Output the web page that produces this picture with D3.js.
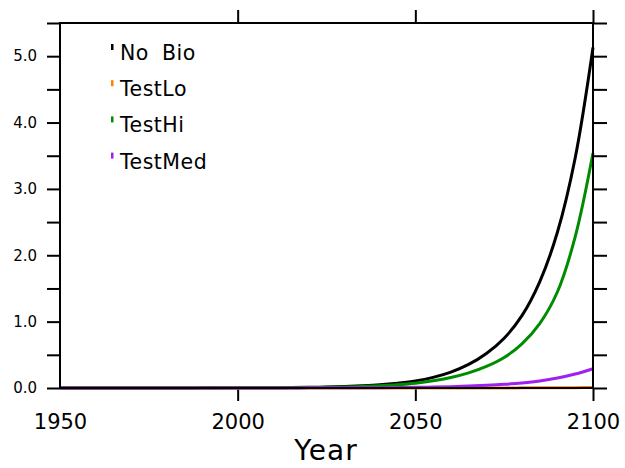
<!DOCTYPE html>
<html>
<head>
<meta charset="utf-8">
<script src="https://cdn.jsdelivr.net/npm/d3@7"></script>
<style>
  body { margin: 0; background: #fff; }
  svg { display: block; font-family: "DejaVu Sans", sans-serif; }
</style>
</head>
<body>
<div id="chart"></div>
<script>
// years sampled every 5 years
const years = [1950, 1955, 1960, 1965, 1970, 1975, 1980, 1985, 1990, 1995,
               2000, 2005, 2010, 2015, 2020, 2025, 2030, 2035, 2040, 2045,
               2050, 2055, 2060, 2065, 2070, 2075, 2080, 2085, 2090, 2095, 2100];

const noBio   = [0, 0, 0, 0, 0, 0.001, 0.001, 0.001, 0.002, 0.002,
                 0.003, 0.004, 0.005, 0.007, 0.010, 0.015, 0.022, 0.033, 0.048, 0.072,
                 0.105, 0.16, 0.24, 0.355, 0.52, 0.75, 1.09, 1.60, 2.35, 3.47, 5.13];
const testLo  = [0, 0, 0, 0, 0, 0, 0, 0, 0, 0,
                 0, 0, 0, 0, 0, 0, 0, 0, 0, 0,
                 0, 0, 0.001, 0.001, 0.001, 0.001, 0.002, 0.003, 0.004, 0.005, 0.007];
const testHi  = [0, 0, 0, 0, 0, 0, 0.001, 0.001, 0.001, 0.001,
                 0.002, 0.002, 0.003, 0.005, 0.007, 0.010, 0.015, 0.023, 0.034, 0.050,
                 0.073, 0.108, 0.158, 0.228, 0.325, 0.46, 0.665, 0.97, 1.45, 2.28, 3.54];
const testMed = [0, 0, 0, 0, 0, 0, 0, 0, 0, 0,
                 0, 0.001, 0.001, 0.001, 0.002, 0.002, 0.003, 0.004, 0.005, 0.007,
                 0.010, 0.014, 0.020, 0.029, 0.040, 0.055, 0.076, 0.106, 0.15, 0.21, 0.29];

const seriesNames  = ["No Bio", "TestLo", "TestHi", "TestMed"];
const seriesColors = ["#000000", "#ff8000", "#008c00", "#a020f0"];
const seriesValues = [noBio, testLo, testHi, testMed];

const xTickValues = [1950, 2000, 2050, 2100];
const yTickValues = [0, 0.5, 1, 1.5, 2, 2.5, 3, 3.5, 4, 4.5, 5, 5.5];

const width = 625, height = 468;
const margin = { top: 23, right: 32, bottom: 80, left: 60 };

const svg = d3.select("#chart")
  .append("svg")
  .attr("width", width)
  .attr("height", height);

const xScale = d3.scaleLinear()
  .domain([1950, 2100])
  .range([margin.left, width - margin.right]);

const yScale = d3.scaleLinear()
  .domain([0, 5.5])
  .range([height - margin.bottom, margin.top]);

const fmtY = (d) => Number.isInteger(d) ? d.toFixed(1) : "";

// left axis
const axLeft = svg.append("g")
  .attr("transform", `translate(${margin.left},0)`)
  .call(d3.axisLeft(yScale).tickValues(yTickValues).tickFormat(fmtY)
    .tickSize(13).tickSizeOuter(0).tickPadding(10));

// right axis (ticks outward, no labels)
const axRight = svg.append("g")
  .attr("transform", `translate(${width - margin.right},0)`)
  .call(d3.axisRight(yScale).tickValues(yTickValues).tickFormat("")
    .tickSize(14).tickSizeOuter(0));

// bottom axis
const axBottom = svg.append("g")
  .attr("transform", `translate(0,${height - margin.bottom})`)
  .call(d3.axisBottom(xScale).tickValues(xTickValues).tickFormat(d3.format("d"))
    .tickSize(13).tickSizeOuter(0).tickPadding(13));

// top axis
const axTop = svg.append("g")
  .attr("transform", `translate(0,${margin.top})`)
  .call(d3.axisTop(xScale).tickValues(xTickValues).tickFormat("")
    .tickSize(13).tickSizeOuter(0));

// no tick mark at the first year
axBottom.selectAll(".tick line").filter((d) => d === 1950).remove();
axTop.selectAll(".tick line").filter((d) => d === 1950).remove();

[axLeft, axRight, axBottom, axTop].forEach((g) => {
  g.select(".domain").remove();
  g.selectAll(".tick line")
    .attr("stroke", "#000")
    .attr("stroke-width", 2);
});

axLeft.selectAll("text").attr("font-size", "15px").attr("fill", "#000")
  .attr("font-family", "DejaVu Sans, sans-serif");
axBottom.selectAll("text").attr("font-size", "21px").attr("fill", "#000")
  .attr("font-family", "DejaVu Sans, sans-serif");

// series lines
const line = d3.line()
  .x((d, i) => xScale(years[i]))
  .y((d) => yScale(d))
  .curve(d3.curveCatmullRom.alpha(0.5));

svg.append("g")
  .selectAll("path")
  .data(seriesValues)
  .enter()
  .append("path")
  .attr("d", (d) => line(d))
  .attr("fill", "none")
  .attr("stroke", (d, i) => seriesColors[i])
  .attr("stroke-width", 3);

// frame
svg.append("rect")
  .attr("x", margin.left)
  .attr("y", margin.top)
  .attr("width", width - margin.right - margin.left)
  .attr("height", height - margin.bottom - margin.top)
  .attr("fill", "none")
  .attr("stroke", "#000")
  .attr("stroke-width", 2);

// legend
const legend = svg.append("g")
  .selectAll("g")
  .data(seriesNames)
  .enter()
  .append("g")
  .attr("transform", (d, i) => `translate(111,${60 + i * 36.2})`);

legend.append("rect")
  .attr("x", 0)
  .attr("y", -16)
  .attr("width", 2.5)
  .attr("height", 6)
  .attr("fill", (d, i) => seriesColors[i]);

legend.append("text")
  .attr("x", 9)
  .attr("y", 0)
  .attr("font-size", "20.5px")
  .attr("letter-spacing", "0.5px")
  .attr("word-spacing", "6px")
  .attr("fill", "#000")
  .text((d) => d);

// x-axis title
svg.append("text")
  .attr("x", 326)
  .attr("y", 460)
  .attr("text-anchor", "middle")
  .attr("font-size", "28px")
  .attr("letter-spacing", "1px")
  .attr("fill", "#000")
  .text("Year");
</script>
</body>
</html>
